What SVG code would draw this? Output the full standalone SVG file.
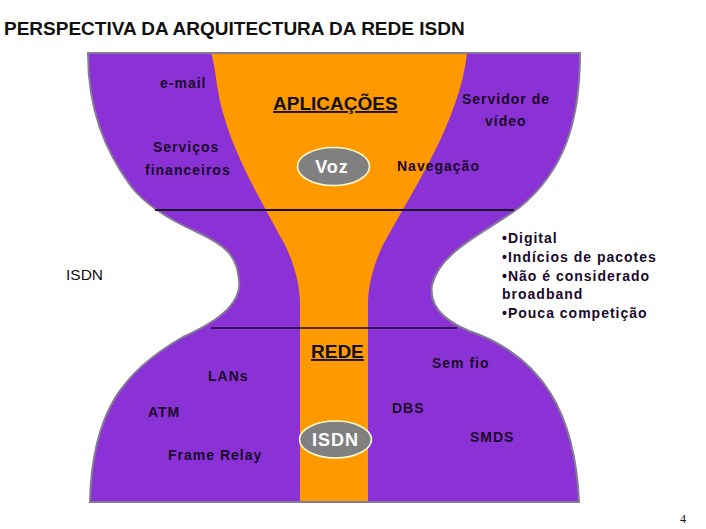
<svg xmlns="http://www.w3.org/2000/svg" width="706" height="529" viewBox="0 0 706 529">
<style>
.lbl{font-family:"Liberation Sans",Arial,sans-serif;font-size:14px;font-weight:bold;fill:#1a0a2a;letter-spacing:1px}
.big{font-family:"Liberation Sans",Arial,sans-serif;font-size:19px;font-weight:bold;fill:#111}
.ul{text-decoration:underline}
.ell{fill:#808080;stroke:#fffbd0;stroke-width:1.6}
.wt{font-family:"Liberation Sans",Arial,sans-serif;font-size:18px;font-weight:bold;fill:#fff;letter-spacing:1px}
.div{stroke:#1a0a2a;fill:none}
</style>
<defs>
<path id="outline" d="M88,53 L580,53 C580,120 565,170 520,207 C490,230 440,250 432,285 C428,310 450,325 480,335 C540,360 575,410 579,502 L90,502 C92,410 125,370 183,337 C225,318 242,300 239,280 C237,255 225,245 197,232 C170,220 145,205 130,185 C105,150 88,110 88,53 Z"/>
</defs>
<rect width="706" height="529" fill="#fff"/>
<text class="big" x="4" y="35">PERSPECTIVA DA ARQUITECTURA DA REDE ISDN</text>
<g id="hourglass">
<use href="#outline" fill="#8b32d6"/>
<path d="M211,53 C213,58 215,70 217,85 C225,140 255,190 285,245 C297,270 300,290 300,305 L300,501 L368,501 L368,305 C368,290 371,270 383,245 C413,190 460,120 467,53 Z" fill="#ff9900"/>
<use href="#outline" fill="none" stroke="#857a95" stroke-width="2"/>
</g>
<g id="connectors">
<line class="div" x1="155" y1="210" x2="514" y2="210" stroke-width="2"/>
<line class="div" x1="211" y1="328" x2="457" y2="328" stroke-width="1.3"/>
</g>
<g id="aplicacoes"><text class="big ul" x="273" y="110">APLICAÇÕES</text></g>
<g id="email"><text class="lbl" x="160" y="88">e-mail</text></g>
<g id="servicos"><text class="lbl" x="153" y="152">Serviços</text><text class="lbl" x="145" y="175">financeiros</text></g>
<g id="servidor"><text class="lbl" x="462" y="104">Servidor de</text><text class="lbl" x="485" y="126">vídeo</text></g>
<g id="navegacao"><text class="lbl" x="397" y="171">Navegação</text></g>
<g id="voz"><ellipse class="ell" cx="333.5" cy="166.5" rx="36" ry="19"/><text class="wt" x="332" y="173" text-anchor="middle">Voz</text></g>
<g id="isdn-label"><text x="66" y="280" style="font-family:'Liberation Sans',Arial,sans-serif;font-size:15.5px;fill:#111">ISDN</text></g>
<g id="bullets">
<text class="lbl" x="502" y="243">•Digital</text>
<text class="lbl" x="502" y="262">•Indícios de pacotes</text>
<text class="lbl" x="502" y="281">•Não é considerado</text>
<text class="lbl" x="502" y="299">broadband</text>
<text class="lbl" x="502" y="318">•Pouca competição</text>
</g>
<g id="rede"><text class="big ul" x="311" y="358">REDE</text></g>
<g id="lans"><text class="lbl" x="208" y="381">LANs</text></g>
<g id="atm"><text class="lbl" x="148" y="417">ATM</text></g>
<g id="framerelay"><text class="lbl" x="168" y="460">Frame Relay</text></g>
<g id="semfio"><text class="lbl" x="432" y="368">Sem fio</text></g>
<g id="dbs"><text class="lbl" x="392" y="413">DBS</text></g>
<g id="smds"><text class="lbl" x="470" y="442">SMDS</text></g>
<g id="isdn"><ellipse class="ell" cx="335.5" cy="439.5" rx="36" ry="18.5"/><text class="wt" x="335.5" y="446" text-anchor="middle">ISDN</text></g>
<text x="680" y="523" style="font-family:'Liberation Serif','Times New Roman',serif;font-size:12px;fill:#111">4</text>
</svg>
